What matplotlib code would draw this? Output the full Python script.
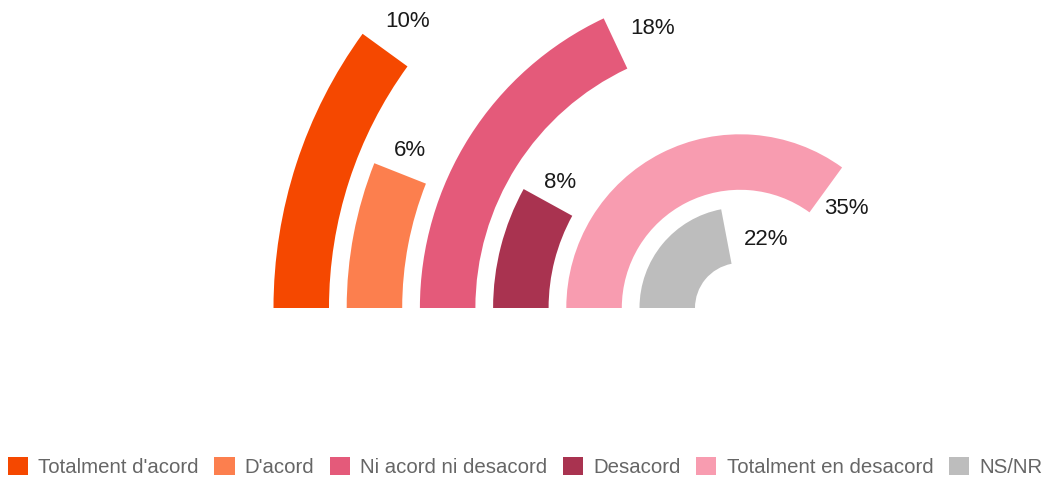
import numpy as np
import matplotlib
matplotlib.use("Agg")
import matplotlib.pyplot as plt
from matplotlib.patches import Patch

plt.rcParams['font.family'] = ['Liberation Sans', 'DejaVu Sans']

# Survey answers, outermost ring first
categories = ["Totalment d'acord", "D'acord", "Ni acord ni desacord",
              "Desacord", "Totalment en desacord", "NS/NR"]
values = [10, 6, 18, 8, 35, 22]
colors = ['#F54800', '#FC7F4E', '#E45A7A', '#A93350', '#F89CB0', '#BDBDBD']

# arc distance (px) from the end of each ring to its label centre
label_gap = [36, 25, 40, 23, 28, 40]

W, H, DPI = 1046, 482, 100
fig = plt.figure(figsize=(W / DPI, H / DPI), dpi=DPI)
fig.patch.set_facecolor('white')

# Polar axes sized so one radial unit is one pixel; centre sits right of the rings
R = 480
cx, cy = 740, 174
ax = fig.add_axes([(cx - R) / W, (cy - R) / H, 2 * R / W, 2 * R / H],
                  projection='polar')
ax.set_theta_zero_location('W')
ax.set_theta_direction(-1)
ax.set_rlim(0, R)
ax.axis('off')

inner0 = 45      # inner radius of the innermost ring
step = 73.2      # ring pitch
thick = 55.5     # ring thickness

n = len(values)
for i, (v, c) in enumerate(zip(values, colors)):
    k = n - 1 - i
    bottom = inner0 + step * k
    span = v / 100 * 2 * np.pi
    ax.bar(0, thick, width=span, bottom=bottom, align='edge',
           color=c, edgecolor='none')
    rmid = bottom + thick / 2
    ax.text(span + label_gap[i] / rmid, rmid, f"{v}%", ha='center',
            va='center', fontsize=16, color='#1a1a1a')

handles = [Patch(facecolor=c, edgecolor='none') for c in colors]
leg = fig.legend(handles, categories, loc='center', ncol=6,
                 bbox_to_anchor=(525 / W, 1 - 467 / H), frameon=False,
                 fontsize=14.7, handlelength=1.0, handleheight=1.0,
                 handletextpad=0.5, columnspacing=0.75)
for t in leg.get_texts():
    t.set_color('#666666')

fig.savefig('out.png', dpi=DPI, facecolor='white')
